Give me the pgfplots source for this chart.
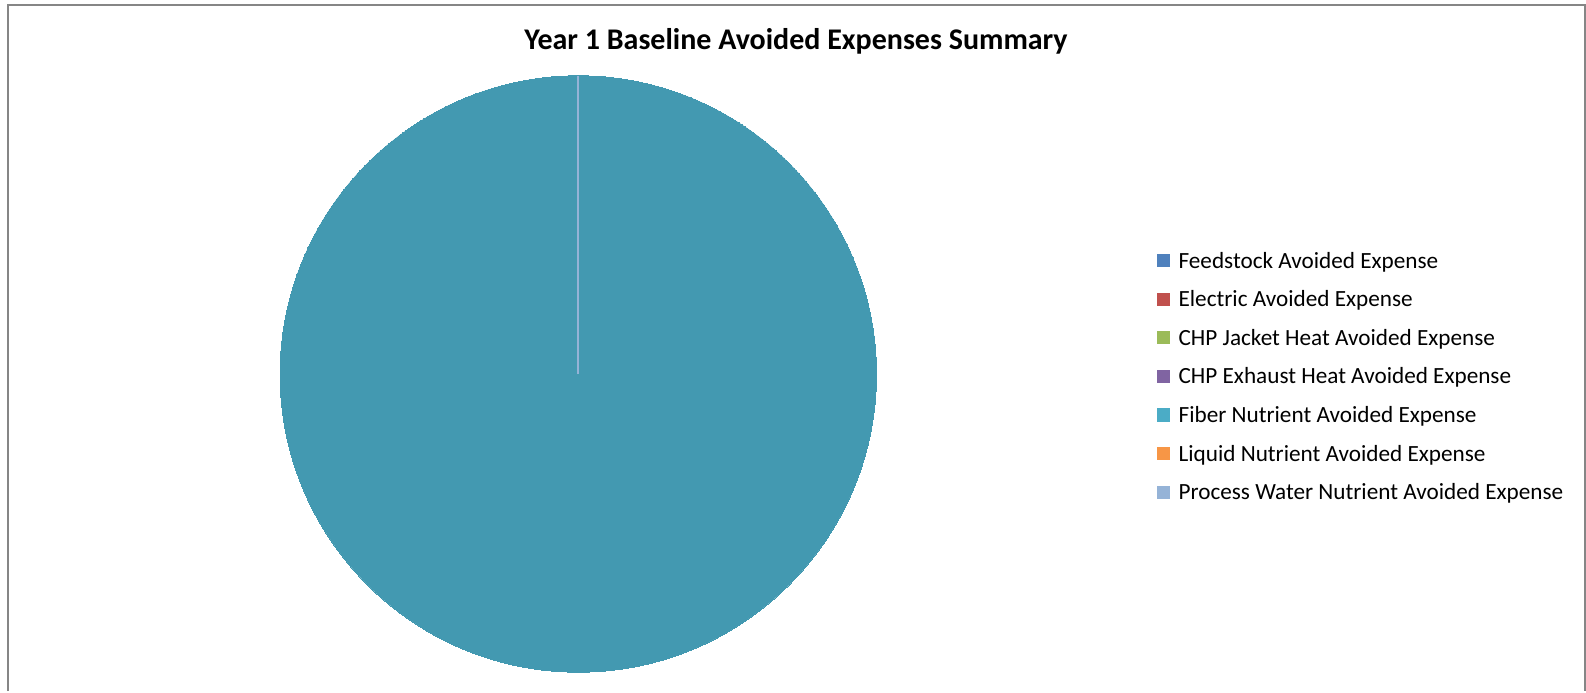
\documentclass[border=0pt]{standalone}
\usepackage{pgfplots}
\pgfplotsset{compat=1.18}
\usepackage{fontspec}
\setmainfont{Carlito}
\definecolor{cFeed}{HTML}{4F81BD}
\definecolor{cElec}{HTML}{C0504D}
\definecolor{cJack}{HTML}{9BBB59}
\definecolor{cExh}{HTML}{8064A2}
\definecolor{cFiber}{HTML}{4BACC6}
\definecolor{cPie}{HTML}{4399B1}
\definecolor{cLiq}{HTML}{F79646}
\definecolor{cProc}{HTML}{95B3D7}
\definecolor{cFrame}{HTML}{868686}
\begin{document}
\begin{tikzpicture}
\begin{axis}[
  set layers,
  scale only axis, width=793pt, height=345.5pt,
  xmin=0, xmax=1586, ymin=0, ymax=691, y dir=reverse,
  hide axis, clip=false,
  legend image code/.code={\fill[#1, draw=none] (0pt,0.45pt) rectangle (6.6pt,7.05pt);},
  legend style={at={(axis cs:1157,259.7)}, anchor=north west, yshift=3.3pt,
    draw=none, fill=none, font=\fontsize{11.6}{14}\selectfont,
    row sep=9.3pt, inner sep=0pt, outer sep=0pt,
    nodes={inner sep=0pt, text height=0.75em, text depth=0.25em, anchor=base west},
    /tikz/every odd column/.style={column sep=4.2pt}},
  legend cell align=left,
]
% page extent
\path (axis cs:0,0) rectangle (axis cs:1586,691);
% frame
\draw[cFrame, line width=1pt] (axis cs:8,691) -- (axis cs:8,5.5) -- (axis cs:1584.5,5.5) -- (axis cs:1584.5,691);
% pie: Fiber Nutrient = 100%, all others 0
\addplot[only marks, color=cPie, mark=*, mark size=149.1pt, mark options={fill=cPie, draw=cPie, line width=0pt}, forget plot] coordinates {(578.3,374)};
\addplot[cProc, line width=1pt, forget plot, on layer=axis foreground] coordinates {(578.3,374) (578.3,75.7)};
\node[font=\fontsize{15}{17}\selectfont\bfseries, anchor=center] at (axis cs:796,41) {Year 1 Baseline Avoided Expenses Summary};
\addlegendimage{fill=cFeed}
\addlegendentry{Feedstock Avoided Expense}
\addlegendimage{fill=cElec}
\addlegendentry{Electric Avoided Expense}
\addlegendimage{fill=cJack}
\addlegendentry{CHP Jacket Heat Avoided Expense}
\addlegendimage{fill=cExh}
\addlegendentry{CHP Exhaust Heat Avoided Expense}
\addlegendimage{fill=cFiber}
\addlegendentry{Fiber Nutrient Avoided Expense}
\addlegendimage{fill=cLiq}
\addlegendentry{Liquid Nutrient Avoided Expense}
\addlegendimage{fill=cProc}
\addlegendentry{Process Water Nutrient Avoided Expense}
\end{axis}
\end{tikzpicture}
\end{document}
